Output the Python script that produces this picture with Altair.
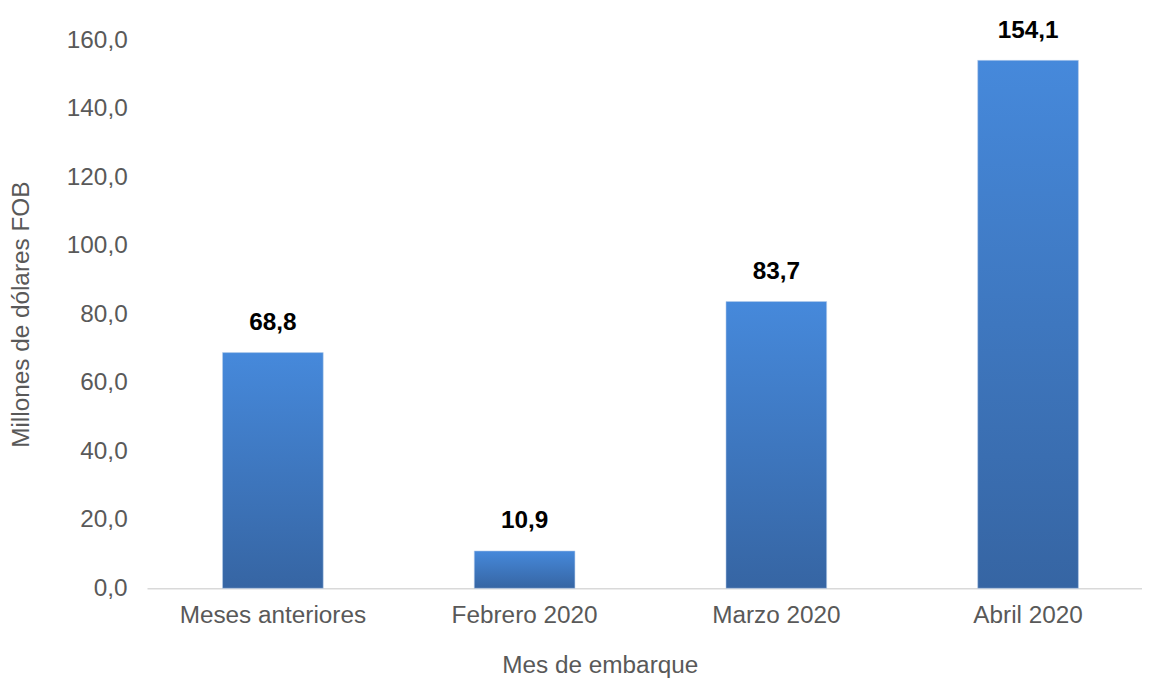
import altair as alt
import pandas as pd

categories = ["Meses anteriores", "Febrero 2020", "Marzo 2020", "Abril 2020"]
values = [68.8, 10.9, 83.7, 154.1]
y_ticks = [0, 20, 40, 60, 80, 100, 120, 140, 160]

df = pd.DataFrame({"cat": categories, "val": values})

FONT = "Liberation Sans"
GRAY = "#595959"
FS = 24.5

base = alt.Chart(df).transform_calculate(
    lab="replace(format(datum.val, '.1f'), '.', ',')"
)

x = alt.X(
    "cat:N",
    sort=categories,
    scale=alt.Scale(range=[0, 1014], paddingInner=0.6, paddingOuter=0.3),
    axis=alt.Axis(
        title="Mes de embarque",
        labelAngle=0,
        labelFont=FONT,
        labelFontSize=FS,
        labelColor=GRAY,
        labelPadding=15,
        labelLimit=400,
        ticks=False,
        domainColor="#D9D9D9",
        domainWidth=1.5,
        titleFont=FONT,
        titleFontSize=FS,
        titleFontWeight="normal",
        titleColor=GRAY,
        titleX=456,
        titleY=85,
        titleAlign="center",
        titleBaseline="alphabetic",
    ),
)

y = alt.Y(
    "val:Q",
    scale=alt.Scale(domain=[0, 160], nice=False),
    axis=alt.Axis(
        title="Millones de dólares FOB",
        values=y_ticks,
        labelExpr="replace(format(datum.value, '.1f'), '.', ',')",
        labelFont=FONT,
        labelFontSize=FS,
        labelColor=GRAY,
        labelPadding=20,
        ticks=False,
        domain=False,
        grid=False,
        titleFont=FONT,
        titleFontSize=FS,
        titleFontWeight="normal",
        titleColor=GRAY,
        titleX=-126.5,
        titleY=276,
        titleAngle=270,
        titleAlign="center",
        titleBaseline="middle",
    ),
)

bars = base.mark_bar(
    color=alt.Gradient(
        gradient="linear",
        stops=[
            alt.GradientStop(color="#4689DB", offset=0),
            alt.GradientStop(color="#3665A3", offset=1),
        ],
        x1=0, x2=0, y1=0, y2=1,
    ),
    stroke="#B9CFEC",
    strokeWidth=0.8,
    strokeOpacity=0.7,
).encode(x=x, y=y)

labels = base.mark_text(
    font=FONT,
    fontSize=FS,
    fontWeight="bold",
    color="#000000",
    baseline="alphabetic",
    dy=-23,
).encode(x=alt.X("cat:N", sort=categories), y="val:Q", text="lab:N")

chart = (
    alt.layer(bars, labels)
    .properties(
        width=1002,
        height=552,
        autosize=alt.AutoSizeParams(type="none"),
        padding={"left": 140, "top": 30, "right": 0, "bottom": 91},
    )
    .configure_view(stroke=None)
)

chart.save("out.html", embed_options={"renderer": "svg", "actions": False})
